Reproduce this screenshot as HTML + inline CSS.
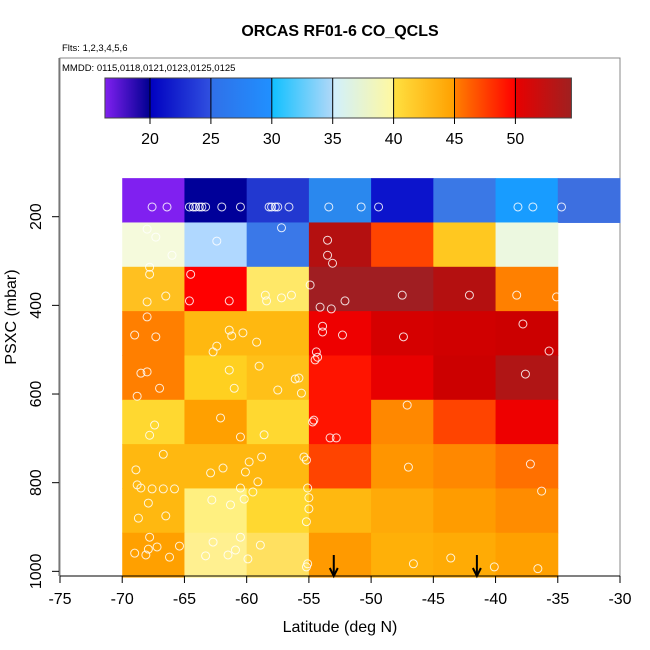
<!DOCTYPE html>
<html><head><meta charset="utf-8"><style>
body{margin:0;background:#fff;font-family:"Liberation Sans",sans-serif}
svg{display:block}
</style></head><body>
<svg id="chart" width="650" height="650" xmlns="http://www.w3.org/2000/svg" font-family="Liberation Sans, sans-serif">
<defs>
<linearGradient id="cb" x1="0" x2="1" y1="0" y2="0"></linearGradient>
</defs>
</svg>
<script>
const latBins=[-70,-65,-60,-55,-50,-45,-40,-35];
const presBins=[113,213,313,413,513,613,713,813,913];
const cellColors=[
["#8020f0","#000099","#2238d0","#2a88ee","#0c14cc","#3a78e6","#189cff","#3d6fe0"],
["#f5fadc","#b0d8ff","#3a78e8","#b41010","#ff4400","#ffc820","#ecf8e0",null],
["#ffc020","#ff0000","#ffe868","#a01e22","#a01e22","#b41010","#ff8000",null],
["#ff7f00","#ffb810","#ffb810","#ee0000","#d50000","#d00000","#cc0000",null],
["#ff7f00","#ffd020","#ffc018","#ff1400","#e80000","#cc0000","#b01515",null],
["#ffd830","#ffa000","#ffd830","#ff1400","#ff8800","#ff4400","#ee0000",null],
["#ffb810","#ffb810","#ffb810","#ff4400","#ff9500","#ff8800","#ff7000",null],
["#ffb810","#fff080","#ffd830","#ffb810","#ffaa08","#ff9c00","#ff8c00",null],
["#ffa000","#fff090","#ffe060","#ff9a00","#ffb008","#ffab05","#ffa000",null]];
const ptLat=[-67.6,-66.4,-64.6,-64.3,-64.1,-63.8,-63.6,-63.3,-62.0,-60.5,-58.2,-58.0,-57.7,-57.5,-56.6,-53.4,-50.8,-49.4,-38.2,-37.0,-34.7,
-68.0,-67.3,-66.0,-67.8,-67.8,-66.5,-68.0,-68.0,-69.0,-67.3,-68.0,-68.5,-67.0,-68.8,-67.4,-67.8,-66.7,-68.9,-68.8,-68.5,-67.6,-66.7,-65.8,-67.9,-68.7,-66.5,-67.8,-67.2,-67.9,-69.0,-68.1,-66.2,-65.4,-64.5,
-62.4,-64.6,-61.4,-61.4,-58.4,-57.2,-56.4,-58.5,-61.2,-60.3,-62.4,-62.7,-61.4,-61.0,-59.2,-59.0,-57.5,-56.1,-55.8,-55.6,-62.1,-60.5,-61.9,-62.9,-59.8,-60.1,-58.6,-59.5,-59.1,-62.8,-61.3,-60.5,-60.2,-58.8,-60.5,-60.9,-62.7,-61.5,-63.3,-59.9,-58.9,-57.2,
-53.5,-53.5,-53.1,-54.9,-53.2,-52.1,-54.1,-53.9,-53.9,-54.4,-54.3,-54.5,-52.3,-54.6,-54.7,-53.3,-52.8,-55.4,-55.2,-55.1,-55.0,-55.0,-55.2,-55.1,-55.2,
-47.5,-42.1,-38.3,-35.1,-47.4,-47.1,-37.8,-35.7,-37.6,-47.0,-37.2,-36.3,-46.6,-43.6,-40.1,-36.6];
const ptPres=[178,178,178,178,178,178,178,178,178,178,178,178,178,178,178,178,178,178,178,178,178,
228,246,287,314,330,379,392,426,467,471,550,553,587,605,670,693,736,771,805,812,814,814,814,846,880,875,923,945,950,959,963,968,943,330,
255,390,390,456,390,383,377,377,469,462,492,505,546,587,483,537,591,566,564,598,654,697,767,778,753,776,692,821,798,839,850,812,837,742,923,952,934,963,965,972,941,225,
253,287,305,354,408,390,404,447,460,505,517,523,467,659,663,699,699,742,749,812,834,859,888,983,990,
377,377,377,381,471,625,442,503,555,765,758,819,983,970,990,994];
const arrowLat=[-53.0,-41.5];
const xTicks=[-75,-70,-65,-60,-55,-50,-45,-40,-35,-30];
const yTicks=[200,400,600,800,1000];
const cbTicks=[20,25,30,35,40,45,50];

const NS="http://www.w3.org/2000/svg";
const svg=document.getElementById('chart');
function X(lat){return 60+(lat+75)*560/45;}
function Y(p){return 216.7+(p-200)*0.4433;}
function CB(v){return 150+(v-20)*12.18;}
function mk(tag,at,parent){const e=document.createElementNS(NS,tag);for(const k in at)e.setAttribute(k,at[k]);(parent||svg).appendChild(e);return e;}

// colorbar gradient
const grad=document.getElementById('cb');
const stops=[[16.3,"#8020f0"],[19.99,"#000090"],[20,"#0000c0"],[24.99,"#3050e0"],[25,"#3070e8"],[29.99,"#2090ff"],[30,"#10c0ff"],[34.99,"#b0d8f8"],[35,"#d0f0ff"],[39.99,"#fff8a0"],[40,"#ffe040"],[44.99,"#ffa000"],[45,"#ff8000"],[49.99,"#ff0000"],[50,"#e80000"],[54.6,"#a02020"]];
stops.forEach(s=>{mk('stop',{offset:((s[0]-16.3)/(54.6-16.3)),'stop-color':s[1]},grad);});

// frame
const frame=mk('rect',{x:60,y:58,width:560,height:518,fill:'none',stroke:'#888','stroke-width':1});



// title
const t=mk('text',{x:340,y:36,'text-anchor':'middle','font-size':16,'font-weight':'bold'});t.textContent='ORCAS RF01-6 CO_QCLS';

const f=mk('text',{x:62,y:51,'font-size':9.5});f.textContent='Flts: 1,2,3,4,5,6';

const m=mk('text',{x:62,y:71,'font-size':9.5});m.textContent='MMDD: 0115,0118,0121,0123,0125,0125';


// colorbar
const cb=mk('rect',{x:CB(16.3),y:78,width:CB(54.6)-CB(16.3),height:40,fill:'url(#cb)',stroke:'#444','stroke-width':1});

cbTicks.forEach(v=>{
 mk('line',{x1:CB(v),x2:CB(v),y1:78,y2:124,stroke:'#000','stroke-width':1});
 const l=mk('text',{x:CB(v),y:144,'text-anchor':'middle','font-size':16});l.textContent=v;
 
});

// cells
cellColors.forEach((row,i)=>row.forEach((c,j)=>{
 if(!c)return;
 const r=mk('rect',{x:X(latBins[j]),y:Y(presBins[i]),width:X(latBins[j]+5)-X(latBins[j])+0.5,height:Y(presBins[i]+100)-Y(presBins[i])+0.5,fill:c});
 
}));

// points
ptLat.forEach((la,i)=>{
 const c=mk('circle',{cx:X(la),cy:Y(ptPres[i]),r:4,fill:'none',stroke:'#fff','stroke-width':1,'stroke-opacity':0.85});
 
});

// arrows
arrowLat.forEach(la=>{
 const g=mk('g',{stroke:'#000','stroke-width':2,fill:'none'});
 
 mk('line',{x1:X(la),x2:X(la),y1:555,y2:576},g);
 mk('polyline',{points:`${X(la)-4},568 ${X(la)},576 ${X(la)+4},568`},g);
});

// axes
const xa=mk('line',{x1:60,x2:620,y1:576,y2:576,stroke:'#000'});

xTicks.forEach(v=>{
 mk('line',{x1:X(v),x2:X(v),y1:576,y2:583,stroke:'#000'});
 const l=mk('text',{x:X(v),y:604,'text-anchor':'middle','font-size':16});l.textContent=v;
 
});
const ya=mk('line',{x1:59,x2:59,y1:58,y2:576,stroke:'#666'});

yTicks.forEach(v=>{
 mk('line',{x1:52,x2:59,y1:Y(v),y2:Y(v),stroke:'#000'});
 const l=mk('text',{x:41,y:Y(v),'text-anchor':'middle','font-size':16,transform:`rotate(-90 41 ${Y(v)})`});l.textContent=v;
 
});
const xt=mk('text',{x:340,y:632,'text-anchor':'middle','font-size':16});xt.textContent='Latitude (deg N)';

const yt=mk('text',{x:16,y:317,'text-anchor':'middle','font-size':16,transform:'rotate(-90 16 317)'});yt.textContent='PSXC (mbar)';

</script>
</body></html>
